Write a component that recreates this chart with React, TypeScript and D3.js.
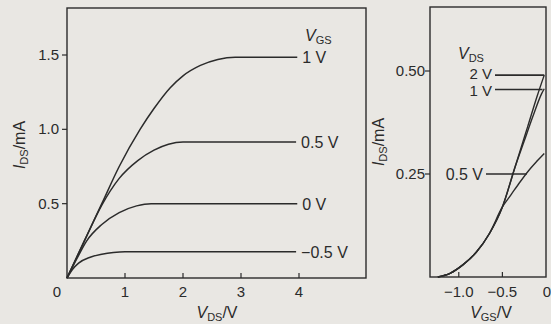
import * as d3 from "d3";

// output characteristics: I_DS (mA) vs V_DS (V), one curve per V_GS
const outGate = ["1 V", "0.5 V", "0 V", "\u22120.5 V"];
const outCurves: [number, number][][] = [
  [[0, 0], [0.3, 0.25], [0.6, 0.5], [0.9, 0.75], [1.26, 1.0], [1.5, 1.14], [1.78, 1.28], [2.0, 1.36], [2.3, 1.43], [2.6, 1.47], [2.9, 1.485], [3.97, 1.485]],
  [[0, 0], [0.3, 0.25], [0.6, 0.49], [0.9, 0.67], [1.22, 0.79], [1.5, 0.86], [1.75, 0.9], [2.0, 0.915], [3.95, 0.915]],
  [[0, 0], [0.17, 0.13], [0.34, 0.25], [0.6, 0.36], [0.9, 0.44], [1.2, 0.485], [1.45, 0.5], [3.97, 0.5]],
  [[0, 0], [0.1, 0.06], [0.2, 0.1], [0.4, 0.14], [0.6, 0.16], [0.8, 0.172], [1.0, 0.177], [3.95, 0.177]],
];
const outXTicks = [0, 1, 2, 3, 4];
const outYTicks = [0.5, 1.0, 1.5];

// transfer characteristics: I_DS (mA) vs V_GS (V), one curve per V_DS
const common: [number, number][] = [[-1.24, 0], [-1.1, 0.009], [-0.95, 0.03], [-0.8, 0.06], [-0.65, 0.105], [-0.5, 0.17]];
const trDrain = ["2 V", "1 V", "0.5 V"];
const trCurves: [number, number][][] = [
  [...common, [-0.35, 0.27], [-0.21, 0.365], [-0.1, 0.44], [-0.02, 0.49]],
  [...common, [-0.35, 0.27], [-0.25, 0.33], [-0.15, 0.39], [-0.05, 0.445], [-0.02, 0.457]],
  [...common, [-0.4, 0.2], [-0.3, 0.23], [-0.2, 0.258], [-0.1, 0.282], [-0.02, 0.3]],
];
// where each label's leader meets its curve
const trLabelAt: [number, number][] = [[-0.02, 0.49], [-0.04, 0.455], [-0.22, 0.25]];
const trXTicks = [-1.0, -0.5, 0];
const trYTicks = [0.25, 0.5];

const ink = "#2b2b2b";
const font = "'Liberation Sans', Arial, sans-serif";

const Sub = ({ main, sub, rest }: { main: string; sub: string; rest?: string }) => (
  <>
    <tspan fontStyle="italic">{main}</tspan>
    <tspan fontSize="11" dy="3">{sub}</tspan>
    {rest ? <tspan dy="-3">{rest}</tspan> : null}
  </>
);

export default function App() {
  // left panel
  const lx = d3.scaleLinear().domain([0, 4]).range([67, 299]);
  const ly = d3.scaleLinear().domain([0, 1.5]).range([278, 55]);
  const lRight = 366, lTop = 8;
  // right panel
  const rx = d3.scaleLinear().domain([-1.33, 0]).range([430, 546]);
  const ry = d3.scaleLinear().domain([0, 0.5]).range([277, 71]);
  const rTop = 7;

  const lLine = d3.line<[number, number]>().x((d) => lx(d[0])).y((d) => ly(d[1])).curve(d3.curveMonotoneX);
  const rLine = d3.line<[number, number]>().x((d) => rx(d[0])).y((d) => ry(d[1])).curve(d3.curveMonotoneX);

  return (
    <svg width={551} height={324} style={{ position: "absolute", left: 0, top: 0 }} fontFamily={font} fill={ink}>
      <rect width={551} height={324} fill="#e9e7e3" />

      {/* left frame */}
      <rect x={lx(0)} y={lTop} width={lRight - lx(0)} height={ly(0) - lTop} fill="none" stroke={ink} strokeWidth={1.4} />
      {outXTicks.slice(1).map((t) => (
        <line key={t} x1={lx(t)} x2={lx(t)} y1={ly(0)} y2={ly(0) - 5} stroke={ink} strokeWidth={1.2} />
      ))}
      {outXTicks.map((t) => (
        <text key={t} x={t === 0 ? lx(t) - 10 : lx(t)} y={297} fontSize={15} textAnchor="middle">{t}</text>
      ))}
      {outYTicks.map((t) => (
        <g key={t}>
          <line x1={lx(0) - 5} x2={lx(0)} y1={ly(t)} y2={ly(t)} stroke={ink} strokeWidth={1.2} />
          <text x={lx(0) - 8} y={ly(t) + 5} fontSize={15} textAnchor="end">{t.toFixed(1)}</text>
        </g>
      ))}
      {outCurves.map((c, i) => (
        <path key={i} d={lLine(c) ?? ""} fill="none" stroke={ink} strokeWidth={1.5} />
      ))}
      {outCurves.map((c, i) => (
        <text key={i} x={lx(c[c.length - 1][0]) + 5} y={ly(c[c.length - 1][1]) + 6} fontSize={16}>{outGate[i]}</text>
      ))}
      <text x={305} y={41} fontSize={16}><Sub main="V" sub="GS" /></text>
      <text x={217} y={318} fontSize={16} textAnchor="middle"><Sub main="V" sub="DS" rest="/V" /></text>
      <text transform="translate(25,145) rotate(-90)" fontSize={16} textAnchor="middle"><Sub main="I" sub="DS" rest="/mA" /></text>

      {/* right frame */}
      <rect x={rx(-1.33)} y={rTop} width={rx(0) - rx(-1.33)} height={ry(0) - rTop} fill="none" stroke={ink} strokeWidth={1.4} />
      {trXTicks.slice(0, 2).map((t) => (
        <line key={t} x1={rx(t)} x2={rx(t)} y1={ry(0)} y2={ry(0) - 5} stroke={ink} strokeWidth={1.2} />
      ))}
      {trXTicks.map((t) => (
        <text key={t} x={t === 0 ? rx(t) + 1 : rx(t)} y={297} fontSize={15} textAnchor="middle">
          {t === 0 ? "0" : "\u2212" + Math.abs(t).toFixed(1)}
        </text>
      ))}
      {trYTicks.map((t) => (
        <g key={t}>
          <line x1={rx(-1.33) - 5} x2={rx(-1.33)} y1={ry(t)} y2={ry(t)} stroke={ink} strokeWidth={1.2} />
          <text x={rx(-1.33) - 5} y={ry(t) + 5} fontSize={15} textAnchor="end">{t.toFixed(2)}</text>
        </g>
      ))}
      {trCurves.map((c, i) => (
        <path key={i} d={rLine(c) ?? ""} fill="none" stroke={ink} strokeWidth={1.4} />
      ))}
      {trLabelAt.map((p, i) => {
        const x0 = i === 2 ? 486 : 495;
        return (
          <g key={i}>
            <line x1={x0} x2={rx(p[0])} y1={ry(p[1])} y2={ry(p[1])} stroke={ink} strokeWidth={1.6} />
            <text x={x0 - 3} y={ry(p[1]) + (i === 0 ? 4 : 6)} fontSize={i === 2 ? 16 : 15} textAnchor="end">{trDrain[i]}</text>
          </g>
        );
      })}
      <text x={458} y={59} fontSize={16}><Sub main="V" sub="DS" /></text>
      <text x={491} y={318} fontSize={16} textAnchor="middle"><Sub main="V" sub="GS" rest="/V" /></text>
      <text transform="translate(384,142) rotate(-90)" fontSize={16} textAnchor="middle"><Sub main="I" sub="DS" rest="/mA" /></text>
    </svg>
  );
}
